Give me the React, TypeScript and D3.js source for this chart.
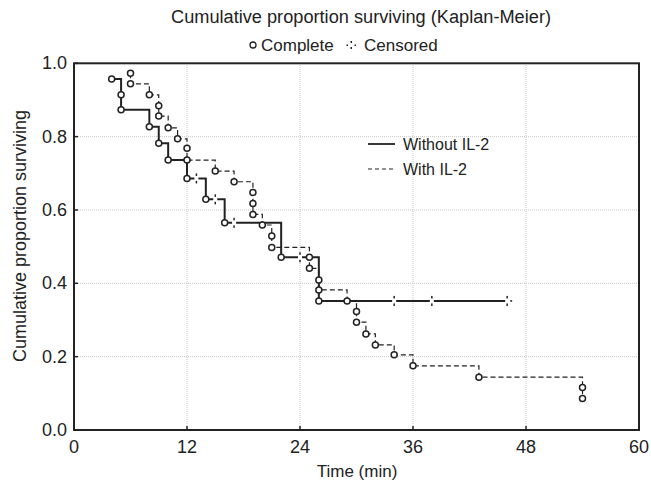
import React from "react";
import * as d3 from "d3";

// Without IL-2 (solid): observations sorted by time, S = survival after the event
const solidTimes = [4, 5, 5, 8, 9, 10, 12, 13, 14, 15, 16, 17, 22, 24, 26, 34, 38, 46];
const solidSurv = [0.957, 0.914, 0.873, 0.827, 0.782, 0.736, 0.686, 0.686, 0.629, 0.629, 0.565, 0.565, 0.471, 0.471, 0.352, 0.352, 0.352, 0.352];
const solidCensored = [0, 0, 0, 0, 0, 0, 0, 1, 0, 1, 0, 1, 0, 1, 0, 1, 1, 1];

// With IL-2 (dashed)
const dashTimes = [6, 6, 8, 9, 9, 10, 11, 12, 12, 15, 17, 19, 19, 19, 20, 21, 21, 25, 25, 26, 26, 29, 30, 30, 31, 32, 34, 36, 43, 54, 54];
const dashSurv = [0.973, 0.944, 0.914, 0.884, 0.856, 0.824, 0.794, 0.768, 0.736, 0.706, 0.677, 0.648, 0.618, 0.588, 0.559, 0.529, 0.498, 0.471, 0.441, 0.409, 0.382, 0.352, 0.323, 0.294, 0.262, 0.232, 0.205, 0.175, 0.144, 0.116, 0.086];
const dashCensored = dashTimes.map(() => 0);

const xTicks = [0, 12, 24, 36, 48, 60];
const yTicks = [0, 0.2, 0.4, 0.6, 0.8, 1.0];

const font = "Liberation Sans, Arial, sans-serif";

function stepPath(times: number[], surv: number[], x: any, y: any) {
  const p = d3.path();
  p.moveTo(x(times[0]), y(surv[0]));
  for (let i = 1; i < times.length; i++) {
    p.lineTo(x(times[i]), y(surv[i - 1]));
    p.lineTo(x(times[i]), y(surv[i]));
  }
  return p.toString();
}

function Censor({ cx, cy, end }: { cx: number; cy: number; end?: boolean }) {
  return (
    <g>
      <rect x={cx - 2} y={cy - 4} width={4} height={8} fill="#fff" />
      <rect x={cx - 0.75} y={cy - 5} width={1.5} height={2.5} fill="#222" />
      <rect x={cx - 0.75} y={cy + 2.5} width={1.5} height={2.5} fill="#222" />
      {end && <rect x={cx + 3} y={cy - 0.75} width={2} height={1.5} fill="#222" />}
    </g>
  );
}

export default function App() {
  const width = 651;
  const height = 481;
  const x = d3.scaleLinear().domain([0, 60]).range([74, 639]);
  const y = d3.scaleLinear().domain([0, 1]).range([430, 63.3]);

  const series = [
    { times: solidTimes, surv: solidSurv, cens: solidCensored, dash: undefined, sw: 2 },
    { times: dashTimes, surv: dashSurv, cens: dashCensored, dash: "5,3", sw: 1.2 },
  ];

  return (
    <svg width={width} height={height} style={{ position: "absolute", left: 0, top: 0, background: "#fff" }} fontFamily={font}>
      <rect width={width} height={height} fill="#fff" />
      <text x={361} y={23} textAnchor="middle" fontSize={18} textLength={380} lengthAdjust="spacingAndGlyphs" fill="#222">
        Cumulative proportion surviving (Kaplan-Meier)
      </text>
      <circle cx={253} cy={45} r={3} fill="#fff" stroke="#222" strokeWidth={1.3} />
      <text x={261} y={51} fontSize={17} fill="#222">Complete</text>
      <rect x={346.5} y={44.5} width={1.5} height={1.5} fill="#222" />
      <rect x={350.5} y={41} width={1.5} height={2} fill="#222" />
      <rect x={350.5} y={47} width={1.5} height={2} fill="#222" />
      <rect x={354.5} y={44.5} width={1.5} height={1.5} fill="#222" />
      <text x={364} y={51} fontSize={17} fill="#222">Censored</text>

      {/* grid */}
      {xTicks.slice(1, -1).map((t) => (
        <line key={"gx" + t} x1={x(t)} x2={x(t)} y1={y(0)} y2={y(1)} stroke="#c8c8c8" strokeDasharray="1,1" />
      ))}
      {yTicks.slice(1, -1).map((t) => (
        <line key={"gy" + t} x1={x(0)} x2={x(60)} y1={y(t)} y2={y(t)} stroke="#c8c8c8" strokeDasharray="1,1" />
      ))}

      {/* curves */}
      {series.map((s, i) => (
        <path key={"p" + i} d={stepPath(s.times, s.surv, x, y)} fill="none" stroke="#222" strokeWidth={s.sw} strokeDasharray={s.dash} />
      ))}
      {series.map((s, i) =>
        s.times.map((t, j) =>
          s.cens[j] ? (
            <Censor key={"c" + i + "-" + j} cx={x(t)} cy={y(s.surv[j])} end={j === s.times.length - 1} />
          ) : (
            <circle key={"o" + i + "-" + j} cx={x(t)} cy={y(s.surv[j])} r={3} fill="#fff" stroke="#222" strokeWidth={1.5} />
          )
        )
      )}

      {/* frame and ticks */}
      <rect x={x(0)} y={y(1)} width={x(60) - x(0)} height={y(0) - y(1)} fill="none" stroke="#222" strokeWidth={2} />
      {xTicks.map((t) => (
        <g key={"xt" + t}>
          <line x1={x(t)} x2={x(t)} y1={y(0)} y2={y(0) - 4} stroke="#222" strokeWidth={1.5} />
          <text x={x(t)} y={453} textAnchor="middle" fontSize={18} fill="#222">{t}</text>
        </g>
      ))}
      {yTicks.map((t) => (
        <g key={"yt" + t}>
          <line x1={x(0)} x2={x(0) + 4} y1={y(t)} y2={y(t)} stroke="#222" strokeWidth={1.5} />
          <text x={67} y={y(t) + 6} textAnchor="end" fontSize={18} fill="#222">{d3.format(".1f")(t)}</text>
        </g>
      ))}
      <text x={357} y={477} textAnchor="middle" fontSize={17} fill="#222">Time (min)</text>
      <text transform={`translate(26,236) rotate(-90)`} textAnchor="middle" fontSize={18} fill="#222">
        Cumulative proportion surviving
      </text>

      {/* legend */}
      <line x1={368} x2={395} y1={144} y2={144} stroke="#222" strokeWidth={1.8} />
      <text x={403} y={150} fontSize={16} fill="#222">Without IL-2</text>
      <line x1={368} x2={395} y1={169} y2={169} stroke="#222" strokeWidth={1.2} strokeDasharray="4,3" />
      <text x={403} y={175} fontSize={16} fill="#222">With IL-2</text>
    </svg>
  );
}
